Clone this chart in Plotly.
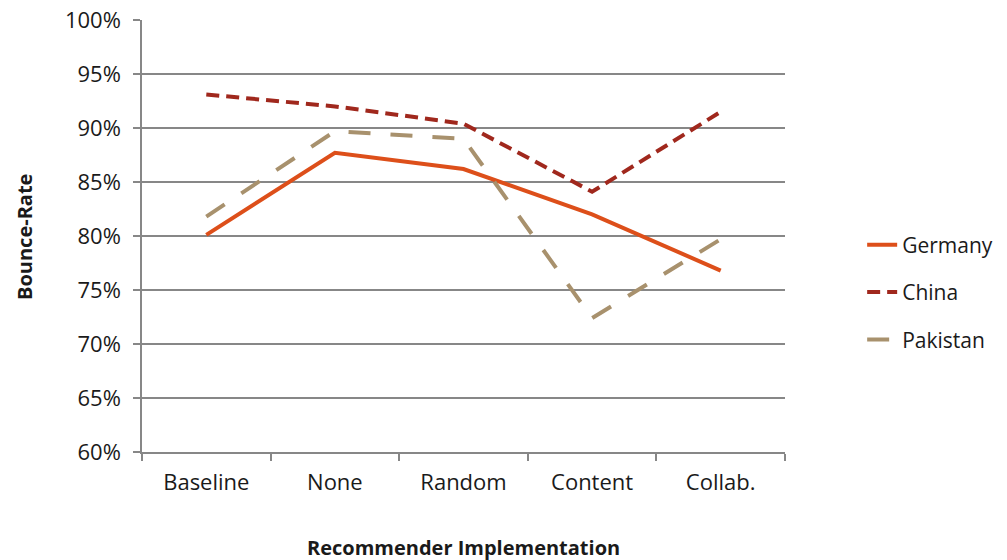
import plotly.graph_objects as go

categories = ["Baseline", "None", "Random", "Content", "Collab."]
germany = [0.801, 0.877, 0.862, 0.820, 0.768]
china = [0.931, 0.920, 0.904, 0.841, 0.915]
pakistan = [0.818, 0.897, 0.890, 0.724, 0.797]
y_ticks = [0.60, 0.65, 0.70, 0.75, 0.80, 0.85, 0.90, 0.95, 1.00]

FONT = "Open Sans, Calibri, Carlito, sans-serif"
GRID = "#878787"
FS = 22

fig = go.Figure()
fig.add_trace(go.Scatter(x=categories, y=germany, name="Germany", mode="lines",
                         line=dict(color="#DD4F1A", width=4), legendgroup="g"))
fig.add_trace(go.Scatter(x=categories, y=china, name="China", mode="lines",
                         line=dict(color="#A0281D", width=4, dash="13px,7px"), legendgroup="c"))
fig.add_trace(go.Scatter(x=categories, y=pakistan, name="Pakistan", mode="lines",
                         line=dict(color="#A8916D", width=4, dash="22px,20px"), legendgroup="p"))

fig.update_layout(
    width=1007, height=560,
    margin=dict(l=142, r=222, t=20, b=108, autoexpand=False),
    paper_bgcolor="white", plot_bgcolor="white",
    font=dict(family=FONT, size=FS, color="#1a1a1a"),
    showlegend=True,
    legend=dict(x=1.12, y=0.37, xanchor="left", yanchor="middle",
                font=dict(size=FS - 1), tracegroupgap=17, bgcolor="rgba(0,0,0,0)"),
    xaxis=dict(
        type="category", categoryorder="array", categoryarray=categories,
        range=[-0.5, 4.5], showgrid=False, showline=True, linecolor=GRID, linewidth=1.5,
        ticks="outside", tickson="boundaries", ticklen=7, tickcolor=GRID, tickwidth=1.5,
        tickfont=dict(size=FS), zeroline=False, automargin=False, ticklabelstandoff=10,
    ),
    yaxis=dict(
        range=[0.6, 1.0], tickvals=y_ticks, tickformat=".0%",
        showgrid=True, gridcolor=GRID, gridwidth=1.5,
        showline=True, linecolor=GRID, linewidth=1.5,
        ticks="outside", ticklen=7, tickcolor=GRID, tickwidth=1.5,
        tickfont=dict(size=FS), zeroline=False, automargin=False, ticklabelstandoff=8,
        ticklabeloverflow="allow",
    ),
    annotations=[
        dict(text="<b>Recommender Implementation</b>", xref="paper", yref="paper",
             x=0.5, y=-(547 - 452) / 432, xanchor="center", yanchor="middle",
             showarrow=False, font=dict(size=FS - 2)),
        dict(text="<b>Bounce-Rate</b>", xref="paper", yref="paper",
             x=-(142 - 24) / 643, y=(452 - 237) / 432, xanchor="center", yanchor="middle",
             textangle=-90, showarrow=False, font=dict(size=FS - 2)),
    ],
)

fig.write_html("out.html", config={"displayModeBar": False},
               post_script="document.body.style.margin='0';")
